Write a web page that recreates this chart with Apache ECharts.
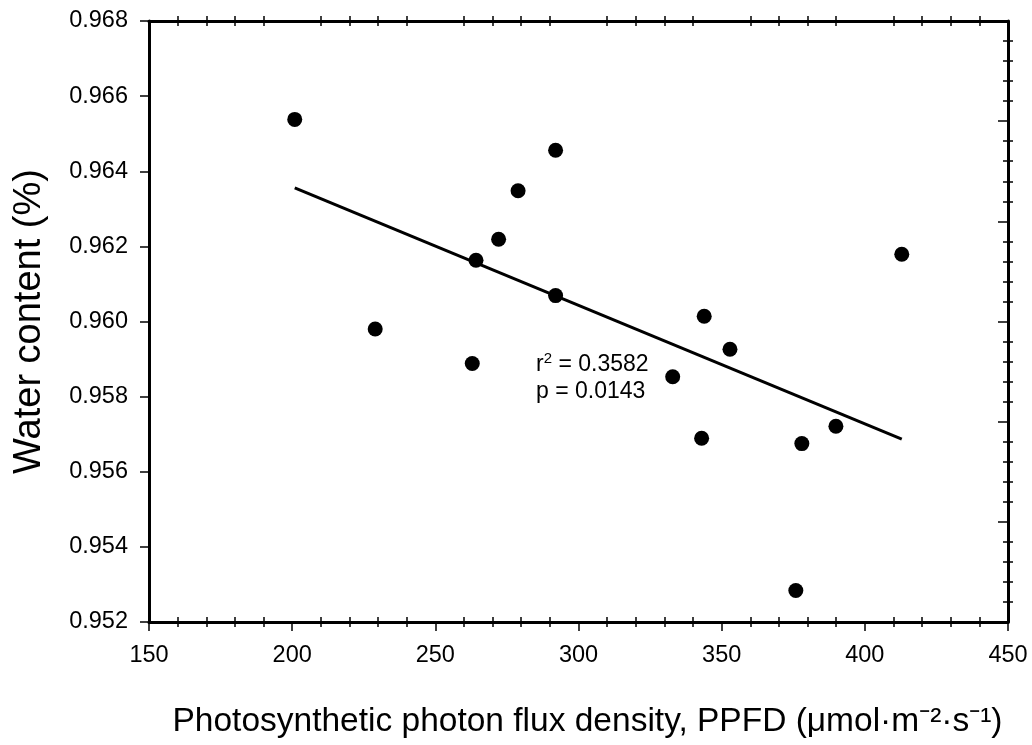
<!DOCTYPE html>
<html>
<head>
<meta charset="utf-8">
<script src="https://cdn.jsdelivr.net/npm/echarts@6/dist/echarts.min.js"></script>
<style>
  html, body { margin: 0; padding: 0; background: #fff; }
  #chart { width: 1032px; height: 745px; }
</style>
</head>
<body>
<div id="chart"></div>
<script>
// PPFD (umol m-2 s-1) vs water content
const ppfd = [200.9, 292.0, 278.9, 272.1, 264.2, 292.0, 229.0, 262.9, 412.9, 343.9, 352.9, 332.9, 343.0, 389.9, 378.0, 375.9];
const waterContent = [0.96538, 0.96456, 0.96348, 0.96219, 0.96163, 0.96069, 0.95980, 0.95888, 0.96179, 0.96014, 0.95926, 0.95853, 0.95689, 0.95721, 0.95675, 0.95284];

// regression line end points
const fitX = [200.9, 412.9];
const fitY = [0.96356, 0.95687];

const xTicks = { min: 150, max: 450, step: 50 };
const yTicks = { min: 0.952, max: 0.968, step: 0.002 };

const rSquared = "0.3582";
const pValue = "0.0143";
const xTitle = "Photosynthetic photon flux density, PPFD (\u03bcmol\u00b7m\u207b\u00b2\u00b7s\u207b\u00b9)";
const yTitle = "Water content (%)";

const font = "'Liberation Sans', Arial, sans-serif";
const black = "#000";

const chart = echarts.init(document.getElementById("chart"));

const scatterData = ppfd.map((x, i) => [x, waterContent[i]]);
const fitData = fitX.map((x, i) => [x, fitY[i]]);

const hidden = { show: false };
const tickLine = { color: black, width: 1.5 };

const option = {
  backgroundColor: "#fff",
  animation: false,
  grid: { left: 149, right: 24, top: 21, bottom: 123, containLabel: false },
  xAxis: [
    {
      type: "value",
      position: "bottom",
      min: xTicks.min,
      max: xTicks.max,
      interval: xTicks.step,
      name: xTitle,
      nameLocation: "middle",
      nameGap: 83,
      nameTextStyle: { fontFamily: font, fontSize: 33.5, color: black, padding: [0, 0, 0, 18] },
      axisLine: { show: true, lineStyle: { color: black, width: 3 } },
      axisTick: { show: true, length: 9, lineStyle: tickLine },
      minorTick: { show: true, splitNumber: 5, length: 5, lineStyle: tickLine },
      axisLabel: { margin: 22, fontFamily: font, fontSize: 23.5, color: black },
      splitLine: hidden,
    },
    {
      // inner half of the bottom minor ticks
      type: "value",
      position: "bottom",
      min: xTicks.min,
      max: xTicks.max,
      interval: xTicks.step,
      axisLine: hidden,
      axisTick: { show: false, inside: true },
      minorTick: { show: true, splitNumber: 5, length: 5, lineStyle: tickLine },
      axisLabel: hidden,
      splitLine: hidden,
    },
    {
      type: "value",
      position: "top",
      min: xTicks.min,
      max: xTicks.max,
      interval: xTicks.step,
      axisLine: { show: true, lineStyle: { color: black, width: 3 } },
      axisTick: { show: false },
      minorTick: { show: true, splitNumber: 5, length: 5, lineStyle: tickLine },
      axisLabel: hidden,
      splitLine: hidden,
    },
    {
      type: "value",
      position: "top",
      min: xTicks.min,
      max: xTicks.max,
      interval: xTicks.step,
      axisLine: hidden,
      axisTick: { show: false, inside: true },
      minorTick: { show: true, splitNumber: 5, length: 5, lineStyle: tickLine },
      axisLabel: hidden,
      splitLine: hidden,
    },
  ],
  yAxis: [
    {
      type: "value",
      position: "left",
      min: yTicks.min,
      max: yTicks.max,
      interval: yTicks.step,
      name: yTitle,
      nameLocation: "middle",
      nameGap: 100,
      nameTextStyle: { fontFamily: font, fontSize: 38, color: black },
      axisLine: { show: true, lineStyle: { color: black, width: 3 } },
      axisTick: { show: true, length: 9, lineStyle: tickLine },
      axisLabel: {
        margin: 21,
        fontFamily: font,
        fontSize: 23.5,
        color: black,
        formatter: (v) => v.toFixed(3),
      },
      splitLine: hidden,
    },
    {
      // right frame: own tick spacing, no labels
      type: "value",
      position: "right",
      min: 0,
      max: 6,
      interval: 1,
      axisLine: { show: true, lineStyle: { color: black, width: 3 } },
      axisTick: { show: true, inside: true, length: 10, lineStyle: tickLine },
      minorTick: { show: true, splitNumber: 5, length: 5, lineStyle: tickLine },
      axisLabel: hidden,
      splitLine: hidden,
    },
    {
      type: "value",
      position: "right",
      min: 0,
      max: 6,
      interval: 1,
      axisLine: hidden,
      axisTick: { show: false },
      minorTick: { show: true, splitNumber: 5, length: 5, lineStyle: tickLine },
      axisLabel: hidden,
      splitLine: hidden,
    },
  ],
  graphic: [
    {
      type: "text",
      left: 536,
      top: 351,
      style: {
        text: "r{sup|2} = " + rSquared + "\np = " + pValue,
        fontFamily: font,
        fontSize: 23,
        lineHeight: 27,
        fill: black,
        rich: {
          sup: { fontFamily: font, fontSize: 15, verticalAlign: "top", lineHeight: 22 },
        },
      },
    },
  ],
  series: [
    {
      type: "line",
      data: fitData,
      symbol: "none",
      lineStyle: { color: black, width: 3 },
      z: 2,
    },
    {
      type: "scatter",
      data: scatterData,
      symbol: "circle",
      symbolSize: 15,
      itemStyle: { color: black, opacity: 1 },
      z: 3,
    },
  ],
};

chart.setOption(option);
</script>
</body>
</html>
